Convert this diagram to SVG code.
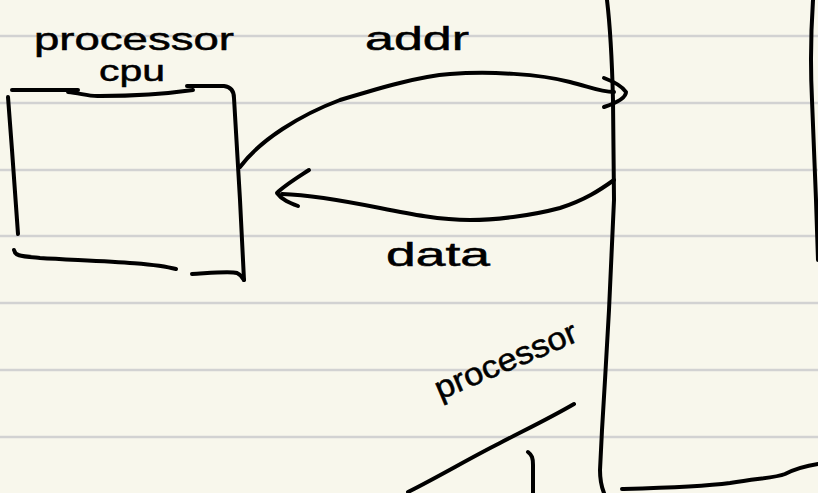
<svg xmlns="http://www.w3.org/2000/svg" width="818" height="493" viewBox="0 0 818 493">
<style>
.rule{stroke:#d2d2d2;stroke-width:2.5}
.ink{fill:none;stroke:#000;stroke-width:4;stroke-linecap:round;stroke-linejoin:round}
.lbl{font-family:"Liberation Sans","DejaVu Sans",sans-serif;font-size:34px;fill:#000;stroke:#000;stroke-width:0.5}
</style>
<rect width="818" height="493" fill="#f8f7ec"/>
<g id="rules">
<line class="rule" x1="0" y1="36" x2="818" y2="36"/>
<line class="rule" x1="0" y1="103" x2="818" y2="103"/>
<line class="rule" x1="0" y1="170" x2="818" y2="170"/>
<line class="rule" x1="0" y1="236" x2="818" y2="236"/>
<line class="rule" x1="0" y1="303" x2="818" y2="303"/>
<line class="rule" x1="0" y1="370" x2="818" y2="370"/>
<line class="rule" x1="0" y1="437" x2="818" y2="437"/>
</g>
<g id="cpu-box">
<path class="ink" d="M12 90 L78 90"/>
<path class="ink" d="M68 92 C80 93 90 97 100 96 C130 96 165 94 193 90"/>
<path class="ink" d="M187 86 L224 86 C232 87 234 92 234 98 L240 200 L244 280"/>
<path class="ink" d="M8 97 L12 150 L18 234"/>
<path class="ink" d="M14 250 C15 256 20 256 40 258 C90 261 150 262 176 269"/>
<path class="ink" d="M192 274 C210 273 230 271 237 273 C241 275 243 278 244 280"/>
<text class="lbl" x="34" y="50" textLength="200" lengthAdjust="spacingAndGlyphs" style="font-size:32px">processor</text>
<text class="lbl" x="99" y="81" textLength="66" lengthAdjust="spacingAndGlyphs" style="font-size:30px">cpu</text>
</g>
<g id="bus">
<path class="ink" d="M607 0 C610 25 612 60 613 100 L614 200 L609 310 L605 380 L602 430 L600 470 C600 480 602 488 604 493"/>
</g>
<g id="right-edge">
<path class="ink" d="M813 0 C811 30 810 60 812 100 L816 200 L818 260"/>
<path class="ink" d="M622 489 C660 488 700 487 730 483 C760 478 775 478 785 474 C795 469 805 466 818 464"/>
</g>
<g id="lower">
<path class="ink" d="M408 492 C440 476 470 458 500 443 C525 430 550 418 574 404"/>
<path class="ink" d="M528 452 C532 455 533 458 533 465 L533 493"/>
<text class="lbl" transform="translate(440,400) rotate(-23)" x="0" y="0" textLength="152" lengthAdjust="spacingAndGlyphs" style="font-size:32px">processor</text>
</g>
<g id="connectors">
<path class="ink" d="M240 167 C260 140 300 115 340 100 C380 88 420 76 450 74 C490 71 540 74 570 82 C590 87 600 92 614 92"/>
<path class="ink" d="M604 78 C612 81 622 86 626 92 C626 98 616 103 604 107"/>
<path class="ink" d="M614 180 C600 190 585 200 560 208 C530 216 495 220 470 220 C440 220 410 214 380 208 C340 200 310 195 282 194"/>
<path class="ink" d="M309 170 C300 176 285 185 277 193 C282 200 290 203 298 206"/>
<text class="lbl" x="365" y="50" textLength="104" lengthAdjust="spacingAndGlyphs">addr</text>
<text class="lbl" x="386" y="266" textLength="104" lengthAdjust="spacingAndGlyphs">data</text>
</g>
</svg>
